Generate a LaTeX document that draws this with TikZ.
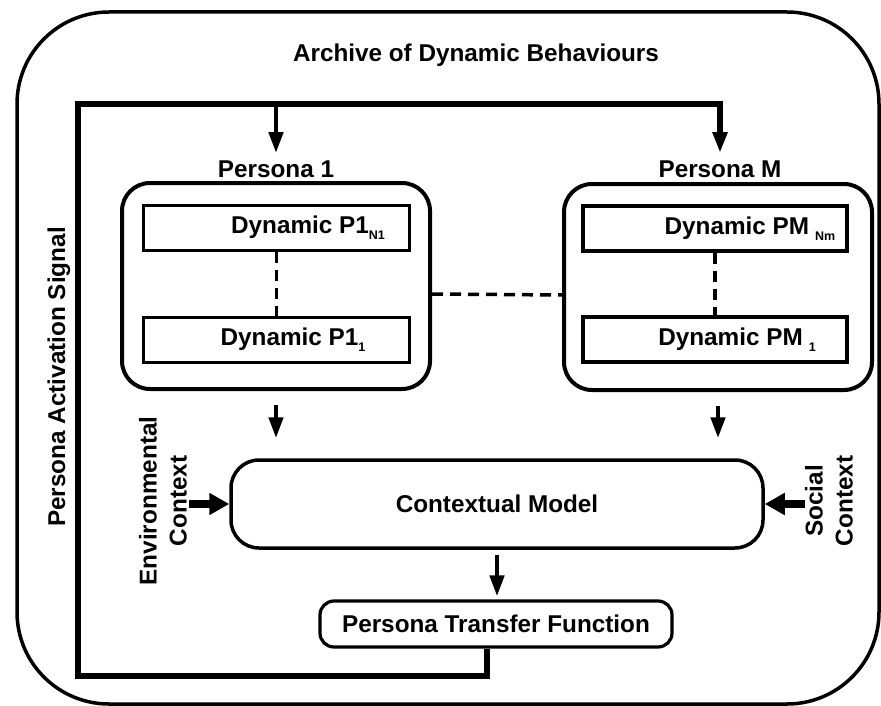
\documentclass[tikz,border=0pt]{standalone}
\usepackage{fontspec}
\setmainfont{Liberation Sans}
\usetikzlibrary{arrows.meta}
\newcommand\subtxt[1]{\raisebox{-6pt}{\fontsize{12.5}{12.5}\selectfont #1}}
\begin{document}
\begin{tikzpicture}[x=1pt,y=-1pt,
  txt/.style={font=\fontsize{24.3}{30}\selectfont\bfseries, inner sep=0pt},
  frame/.style={draw, line width=3.5pt, rounded corners=92pt, minimum width=862pt, minimum height=692pt, inner sep=0pt},
  personabox/.style={draw, line width=4pt, rounded corners=28pt, minimum width=308pt, minimum height=206pt, inner sep=0pt},
  dynbox/.style={draw, line width=3.5pt, minimum width=266pt, minimum height=45pt, inner sep=0pt},
  cmbox/.style={draw, line width=3.5pt, rounded corners=28pt, minimum width=532pt, minimum height=88pt, txt},
  ptfbox/.style={draw, line width=3.2pt, rounded corners=14pt, minimum width=352pt, minimum height=46pt, txt},
  loopline/.style={line width=5.8pt, line join=miter},
  headarrow/.style={line width=4.5pt, -{Triangle[length=21pt,width=14pt]}},
  ctxarrow/.style={line width=8pt, -{Triangle[length=20pt,width=21pt]}},
  dashline/.style={line width=3.5pt, dash pattern=on 11pt off 7pt},
]
\useasboundingbox (0,0) rectangle (881,706);

\node[frame] (archive) at (448,358) {};
\node[txt] (title) at (476,55) {Archive of Dynamic Behaviours};

\node[personabox] (persona1) at (276,286) {};
\node[personabox] (personaM) at (718,287) {};
\node[txt, anchor=base] (p1label) at (276,178) {Persona 1};
\node[txt, anchor=base] (pMlabel) at (720,178) {Persona M};

\node[dynbox, label={[txt, xshift=31.5pt]center:Dynamic P1\subtxt{N1}}] (p1n) at (276.5,228) {};
\node[dynbox, label={[txt, xshift=16.5pt]center:Dynamic P1\subtxt{1}}] (p11) at (276.5,340) {};
\node[dynbox, minimum width=264pt, label={[txt, xshift=35pt]center:Dynamic PM\hspace{6pt}\subtxt{Nm}}] (pmn) at (715,228.5) {};
\node[dynbox, minimum width=264pt, label={[txt, xshift=22pt]center:Dynamic PM\hspace{6pt}\subtxt{1}}] (pm1) at (715,339.5) {};

\node[cmbox] (cm) at (497,504) {Contextual Model};
\node[ptfbox] (ptf) at (496,624) {Persona Transfer Function};

\node[txt, rotate=90, align=center] (env) at (163,501) {Environmental\\Context};
\node[txt, rotate=90, align=center] (soc) at (829,501) {Social\\Context};
\node[txt, rotate=90] (pas) at (59,377) {Persona Activation Signal};

\coordinate (fb) at (487,676);
\coordinate (botL) at (78,676);
\coordinate (topL) at (78,104);
\coordinate (topR) at (720,104);
\coordinate (envsrc) at (189,504);
\coordinate (socsrc) at (805,504);

\draw[loopline, -{Triangle[length=21pt,width=14pt]}, shorten >=8pt] (ptf.south -| fb) -- (fb) -- (botL) -- (topL) -- (topR) -- (topR |- pMlabel.north);
\draw[headarrow, shorten >=8pt] (topL -| p1label) -- (p1label.north);

\draw[headarrow, shorten <=14pt, shorten >=20pt] (persona1.south) -- (persona1.south |- cm.north);
\draw[headarrow, shorten <=14pt, shorten >=20pt] (personaM.south) -- (personaM.south |- cm.north);
\draw[headarrow, shorten <=5pt, shorten >=3pt] (cm.south) -- (cm.south |- ptf.north);

\draw[ctxarrow] (envsrc) -- (cm.west);
\draw[ctxarrow] (socsrc) -- (cm.east);

\draw[dashline] (p1n.south) -- (p11.north);
\draw[dashline] (pmn.south) -- (pm1.north);
\draw[dashline] ([yshift=-8pt]persona1.east) -- ([yshift=-8pt]personaM.west);
\end{tikzpicture}
\end{document}
